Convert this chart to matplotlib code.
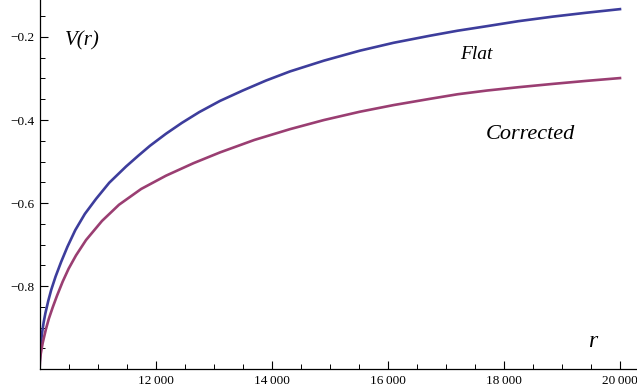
import numpy as np
import matplotlib
matplotlib.use("Agg")
import matplotlib.pyplot as plt
from matplotlib.ticker import MultipleLocator, FuncFormatter

# values
r_flat = [10000, 10005, 10015, 10040, 10070, 10100, 10150, 10200, 10275, 10370,
          10480, 10615, 10780, 10972, 11200, 11489, 11700, 11902, 12178, 12450,
          12750, 13108, 13500, 13900, 14314, 14900, 15519, 16100, 16726, 17200,
          17708, 18250, 18845, 19400, 20000]
v_flat = [-1.000, -0.970, -0.948, -0.915, -0.887, -0.865, -0.835, -0.809, -0.777, -0.742,
          -0.705, -0.665, -0.626, -0.590, -0.551, -0.512, -0.486, -0.462, -0.433, -0.407,
          -0.381, -0.354, -0.329, -0.305, -0.283, -0.257, -0.233, -0.214, -0.197, -0.185,
          -0.174, -0.162, -0.151, -0.142, -0.133]

r_corr = [10000, 10006, 10020, 10053, 10110, 10160, 10226, 10300, 10398, 10500,
          10627, 10800, 11075, 11368, 11750, 12178, 12650, 13108, 13700, 14314,
          14900, 15519, 16100, 16726, 17200, 17708, 18250, 18845, 19400, 20000]
v_corr = [-1.000, -0.982, -0.963, -0.937, -0.903, -0.878, -0.851, -0.823, -0.789, -0.758,
          -0.726, -0.689, -0.643, -0.604, -0.566, -0.534, -0.504, -0.478, -0.448, -0.422,
          -0.400, -0.380, -0.364, -0.349, -0.338, -0.329, -0.321, -0.313, -0.306, -0.299]

x_ticks = [12000, 14000, 16000, 18000, 20000]
y_ticks = [-0.8, -0.6, -0.4, -0.2]

serif = "Liberation Serif"

fig = plt.figure(figsize=(6.37, 3.89), dpi=100)
ax = fig.add_axes([39.6 / 637, 19.8 / 389, 1 - 39.6 / 637, 1 - 19.8 / 389])
ax.set_xlim(10000, 20293)
ax.set_ylim(-1.0, -0.111)

ax.plot(r_flat, v_flat, color="#3d3d9c", lw=1.9, solid_joinstyle="round")
ax.plot(r_corr, v_corr, color="#9a3e72", lw=1.9, solid_joinstyle="round")

for s in ["top", "right"]:
    ax.spines[s].set_visible(False)
for s in ["left", "bottom"]:
    ax.spines[s].set_linewidth(0.9)

ax.set_xticks(x_ticks)
ax.set_yticks(y_ticks)
ax.xaxis.set_minor_locator(MultipleLocator(500))
ax.yaxis.set_minor_locator(MultipleLocator(0.05))
ax.xaxis.set_major_formatter(FuncFormatter(lambda v, p: f"{int(v) // 1000}\u2009{int(v) % 1000:03d}"))
ax.yaxis.set_major_formatter(FuncFormatter(lambda v, p: f"\u2212{abs(v):.1f}"))
ax.tick_params(which="major", direction="in", length=6, width=0.8, labelsize=9.5, pad=4)
ax.tick_params(which="minor", direction="in", length=3.5, width=0.7)
for lab in ax.get_xticklabels() + ax.get_yticklabels():
    lab.set_family(serif)

ax.text(10438, -0.220, "V(r)", family=serif, style="italic", fontsize=15, va="baseline", ha="left")
ax.text(17519, -0.253, "Flat", family=serif, style="italic", fontsize=14, va="baseline", ha="center")
ax.text(18450, -0.446, "Corrected", family=serif, style="italic", fontsize=16, va="baseline", ha="center")
ax.text(19535, -0.947, "r", family=serif, style="italic", fontsize=17, va="baseline", ha="center")

fig.savefig("out.png", dpi=100)
